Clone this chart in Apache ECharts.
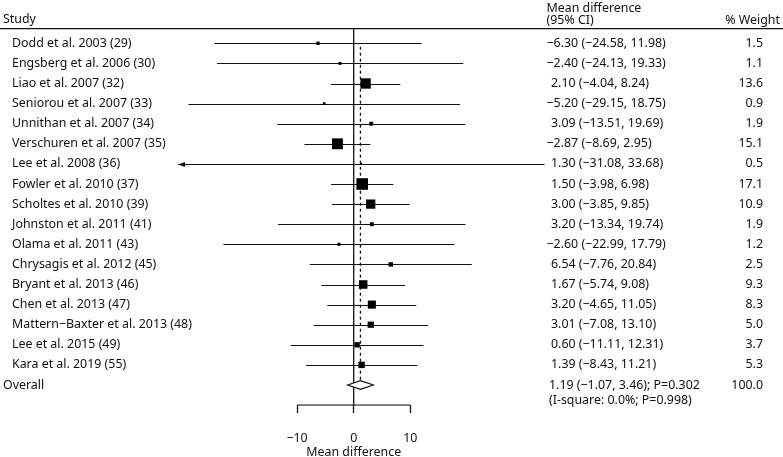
<!DOCTYPE html>
<html>
<head>
<meta charset="utf-8">
<script src="https://cdn.jsdelivr.net/npm/echarts@6/dist/echarts.min.js"></script>
<style>html,body{margin:0;padding:0;background:#fff}#c{width:783px;height:457px}</style>
</head>
<body>
<div id="c"></div>
<script>
const studies = ["Dodd et al. 2003 (29)","Engsberg et al. 2006 (30)","Liao et al. 2007 (32)","Seniorou et al. 2007 (33)","Unnithan et al. 2007 (34)","Verschuren et al. 2007 (35)","Lee et al. 2008 (36)","Fowler et al. 2010 (37)","Scholtes et al. 2010 (39)","Johnston et al. 2011 (41)","Olama et al. 2011 (43)","Chrysagis et al. 2012 (45)","Bryant et al. 2013 (46)","Chen et al. 2013 (47)","Mattern\u2212Baxter et al. 2013 (48)","Lee et al. 2015 (49)","Kara et al. 2019 (55)"];
const means = [-6.30,-2.40,2.10,-5.20,3.09,-2.87,1.30,1.50,3.00,3.20,-2.60,6.54,1.67,3.20,3.01,0.60,1.39];
const lows = [-24.58,-24.13,-4.04,-29.15,-13.51,-8.69,-31.08,-3.98,-3.85,-13.34,-22.99,-7.76,-5.74,-4.65,-7.08,-11.11,-8.43];
const highs = [11.98,19.33,8.24,18.75,19.69,2.95,33.68,6.98,9.85,19.74,17.79,20.84,9.08,11.05,13.10,12.31,11.21];
const weights = [1.5,1.1,13.6,0.9,1.9,15.1,0.5,17.1,10.9,1.9,1.2,2.5,9.3,8.3,5.0,3.7,5.3];
const overall = {mean: 1.19, low: -1.07, high: 3.46, p: 0.302, isq: 0.0, phet: 0.998, weight: 100.0};
const tickValues = [-10, 0, 10];
const xLimit = -31;

const FSIZE = 12.4;
const FONT = FSIZE + 'px "Noto Sans"';
const fmt = v => v.toFixed(2).replace('-', '\u2212');
const nOver = studies.length; // overall row index
const rows = studies.map((s, i) => [i, means[i], lows[i], highs[i], weights[i]]);

function txt(text, x, y, align) {
  return {type: 'text', silent: true, style: {text, x, y, font: FONT, fill: '#111', align: align || 'left', verticalAlign: 'middle', textAlign: align || 'left', textVerticalAlign: 'middle'}};
}

const chart = echarts.init(document.getElementById('c'), null, {renderer: 'canvas'});
chart.setOption({
  animation: false,
  grid: {left: 149.7, right: 225.3, top: 23.2, bottom: 51.9, containLabel: false, outerBoundsMode: 'none'},
  xAxis: {
    type: 'value', min: -36, max: 36,
    axisLine: {show: false, onZero: false}, splitLine: {show: false},
    axisTick: {show: true, customValues: tickValues, length: 8, lineStyle: {color: '#111', width: 1.3}},
    axisLabel: {customValues: tickValues, margin: 27, color: '#111', fontFamily: 'Noto Sans', fontSize: FSIZE,
      formatter: v => String(v).replace('-', '\u2212')},
    name: 'Mean difference', nameLocation: 'middle', nameGap: 40, nameMoveOverlap: false,
    nameTextStyle: {color: '#111', fontFamily: 'Noto Sans', fontSize: FSIZE, lineHeight: 14}
  },
  yAxis: {type: 'value', inverse: true, min: -1, max: 18, show: false},
  graphic: [
    {type: 'line', silent: true, shape: {x1: 0, y1: 28.7, x2: 783, y2: 28.7}, style: {stroke: '#111', lineWidth: 1.3}},
    txt('Study', 3, 19.5),
    txt('Mean difference', 546.5, 8),
    txt('(95% CI)', 546.5, 20.5),
    txt('% Weight', 780, 20, 'right')
  ],
  series: [
    {type: 'line', silent: true, symbol: 'none', data: [[0, -0.73], [0, 18]], lineStyle: {color: '#111', width: 1.3}, z: 1},
    {type: 'line', silent: true, symbol: 'none', data: [[tickValues[0], 18], [tickValues[tickValues.length-1], 18]], lineStyle: {color: '#111', width: 1.3}, z: 1},
    {type: 'line', silent: true, symbol: 'none', data: [[overall.mean, 0.17], [overall.mean, nOver - 0.21]], lineStyle: {color: '#111', width: 1.3, type: [3, 3]}, z: 2},
    {
      type: 'custom', silent: true, z: 3,
      data: rows,
      encode: {x: [1, 2, 3], y: 0},
      renderItem: function (params, api) {
        const i = api.value(0), m = api.value(1), lo = api.value(2), hi = api.value(3), w = api.value(4);
        const loC = Math.max(lo, xLimit);
        const p1 = api.coord([loC, i]), p2 = api.coord([hi, i]), pm = api.coord([m, i]);
        const s = 2.8 * Math.sqrt(w);
        const yy = Math.round(p1[1]) + 0.5;
        const ch = [
          {type: 'line', shape: {x1: p1[0], y1: yy, x2: p2[0], y2: yy}, style: {stroke: '#111', lineWidth: 1}},
          {type: 'rect', shape: {x: pm[0] - s / 2, y: p1[1] - s / 2, width: s, height: s}, style: {fill: '#000'}}
        ];
        if (lo < xLimit) {
          ch.push({type: 'polygon', shape: {points: [[p1[0], yy], [p1[0] + 7, yy - 2.5], [p1[0] + 7, yy + 2.5]]}, style: {fill: '#111'}});
        }
        ch.push(txt(studies[i], 12, p1[1]));
        ch.push(txt(fmt(m) + ' (' + fmt(lo) + ', ' + fmt(hi) + ')', m < 0 ? 546.5 : 551, p1[1]));
        ch.push(txt(w.toFixed(1), 763, p1[1], 'right'));
        return {type: 'group', children: ch};
      }
    },
    {
      type: 'custom', silent: true, z: 4,
      data: [[nOver, overall.mean, overall.low, overall.high, overall.weight]],
      encode: {x: [1, 2, 3], y: 0},
      renderItem: function (params, api) {
        const i = api.value(0), m = api.value(1), lo = api.value(2), hi = api.value(3), w = api.value(4);
        const h = 0.215;
        const pts = [api.coord([lo, i]), api.coord([m, i - h]), api.coord([hi, i]), api.coord([m, i + h])];
        const c = api.coord([m, i]);
        const c2 = api.coord([m, i + 0.79]);
        return {type: 'group', children: [
          {type: 'polygon', shape: {points: pts}, style: {fill: '#fff', stroke: '#111', lineWidth: 1.2}},
          txt('Overall', 3, c[1]),
          txt(fmt(m) + ' (' + fmt(lo) + ', ' + fmt(hi) + '); P=' + overall.p.toFixed(3), 549, c[1]),
          txt('(I-square: ' + overall.isq.toFixed(1) + '%; P=' + overall.phet.toFixed(3) + ')', 549, c2[1]),
          txt(w.toFixed(1), 763, c[1], 'right')
        ]};
      }
    }
  ]
});
</script>
</body>
</html>
